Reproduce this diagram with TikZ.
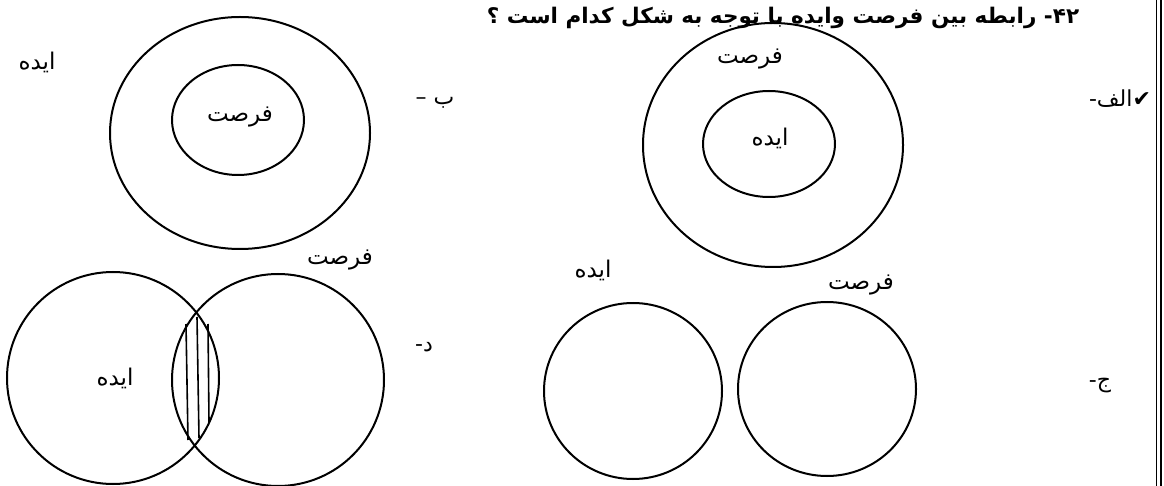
\documentclass[tikz,border=0pt]{standalone}
\usepackage{fontspec}
\newfontfamily\arabicfont[Script=Arabic]{DejaVu Sans}
\TeXXeTstate=1

\begin{document}
\begin{tikzpicture}[x=1pt, y=-1pt,
    ring/.style={black, line width=2pt},
    lbl/.style={font=\arabicfont\fontsize{23}{26}\selectfont, inner sep=0pt},
    opt/.style={font=\arabicfont\fontsize{22}{26}\selectfont, inner sep=0pt},
    ttl/.style={font=\arabicfont\bfseries\fontsize{21.5}{26}\selectfont, inner sep=0pt, anchor=base}]
  \useasboundingbox (0,0) rectangle (1164,486);
  % Titre (coupe en haut)
  \node[ttl] (titre) at (783,24)
        {\beginR\beginL ۴۲\endL- رابطه بین فرصت وایده با توجه به شکل کدام است ؟\endR};
  % Bordure double a droite
  \draw[line width=1.4pt] (1156.5,0) -- (1156.5,486);
  \draw[line width=2.8pt] (1161,0) -- (1161,486);
  % Option alef : ide dans forsat
  \draw[ring] (773,145) ellipse [x radius=130, y radius=122];
  \draw[ring] (769,144) ellipse [x radius=66, y radius=53];
  \node[lbl] (alefF) at (750,59)  {\beginR فرصت\endR};
  \node[lbl] (alefI) at (770,138) {\beginR ایده\endR};
  \node[opt] (alef)  at (1120,99) {\beginR ✔الف-\endR};
  % Option be : forsat dans ide
  \draw[ring] (240,133) ellipse [x radius=130, y radius=116];
  \draw[ring] (238,120) ellipse [x radius=66, y radius=55];
  \node[lbl] (beF) at (240,117) {\beginR فرصت\endR};
  \node[lbl] (beI) at (37,62)   {\beginR ایده\endR};
  \node[opt] (be)  at (435,103) {\beginR ب –\endR};
  % Option dal : intersection hachuree
  \draw[ring] (113,378) circle (106);
  \draw[ring] (278,380) circle (106);
  \foreach \xa/\ya/\xb/\yb in {186/324/188/440, 197/317/199/438, 208/324/209/422}
    \draw[black, line width=1.6pt] (\xa,\ya) -- (\xb,\yb);
  \node[lbl] (dalI) at (115,378) {\beginR ایده\endR};
  \node[lbl] (dalF) at (340,260) {\beginR فرصت\endR};
  \node[opt] (dal)  at (424,347) {\beginR د-\endR};
  % Option jim : disjoints
  \draw[ring] (633,391) ellipse [x radius=89, y radius=88];
  \draw[ring] (827,389) ellipse [x radius=89, y radius=87];
  \node[lbl] (jimI) at (593,270) {\beginR ایده\endR};
  \node[lbl] (jimF) at (861,285) {\beginR فرصت\endR};
  \node[opt] (jim)  at (1100,386) {\beginR ج-\endR};
\end{tikzpicture}
\end{document}
